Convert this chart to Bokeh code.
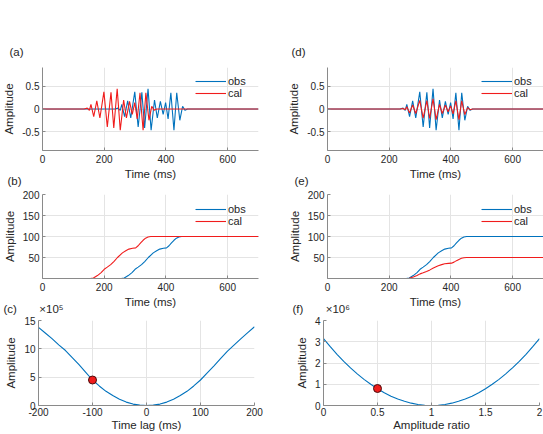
from bokeh.plotting import figure
from bokeh.layouts import column, row
from bokeh.models import FixedTicker, Legend, LegendItem, Range1d
from bokeh.embed import file_html
from bokeh.resources import INLINE

# ---------------- data ----------------
# observed waveform (extrema, time in ms / amplitude)
obs_t = [0, 235, 245, 252, 257, 266, 276, 286, 299, 310, 322, 331, 342, 352, 363, 372,
         382, 391, 399, 407, 416, 426, 435, 445, 454, 462, 470, 700]
obs_a = [0, 0, 0.02, -0.03, 0.10, -0.17, 0.18, -0.20, 0.38, -0.40, 0.37, -0.42, 0.45, -0.47,
         0.20, -0.20, 0.17, -0.12, 0.14, -0.22, 0.36, -0.47, 0.36, -0.25, 0.06, -0.03, 0, 0]
# calculated waveform, panel (a): time-shifted copy
cal_shift_t = [0, 135, 145, 152, 157, 166, 176, 186, 199, 210, 222, 231, 242, 252, 263, 272,
               282, 291, 299, 307, 316, 326, 335, 345, 354, 362, 370, 700]
cal_shift_a = [0, 0, 0.02, -0.03, 0.10, -0.17, 0.18, -0.20, 0.38, -0.40, 0.37, -0.42, 0.45, -0.47,
               0.20, -0.20, 0.17, -0.12, 0.14, -0.22, 0.36, -0.47, 0.36, -0.25, 0.06, -0.03, 0, 0]
# calculated waveform, panel (d): scaled copy
cal_scaled_t = [0, 235, 245, 252, 257, 266, 276, 286, 299, 310, 322, 331, 342, 352, 363, 372,
                382, 391, 399, 407, 416, 426, 435, 445, 454, 462, 470, 700]
cal_scaled_a = [0, 0, 0.01, -0.015, 0.05, -0.085, 0.09, -0.10, 0.19, -0.20, 0.185, -0.21, 0.225,
                -0.235, 0.10, -0.10, 0.085, -0.06, 0.07, -0.11, 0.18, -0.235, 0.18, -0.125, 0.03,
                -0.015, 0, 0]

# cumulative energy curves
cum_obs_t = [0, 255, 265, 278, 290, 300, 310, 321, 332, 343, 359, 370, 380, 392, 402, 410,
             418, 426, 434, 442, 451, 460, 700]
cum_obs_v = [0, 0, 1, 7, 14, 22, 27, 33, 41, 50, 61, 66, 70, 72, 73, 78, 85, 91, 96, 99, 100, 100, 100]
cum_cal_shift_t = [0, 155, 165, 178, 190, 200, 210, 221, 232, 243, 259, 270, 280, 292, 302, 310,
                   318, 326, 334, 342, 351, 360, 700]
cum_cal_shift_v = [0, 0, 1, 7, 14, 22, 27, 33, 41, 50, 61, 66, 70, 72, 73, 78, 85, 91, 96, 99, 100, 100, 100]
cum_cal_scaled_t = [0, 255, 265, 278, 290, 300, 310, 321, 332, 343, 359, 370, 380, 392, 402, 410,
                    418, 426, 434, 442, 451, 460, 700]
cum_cal_scaled_v = [0, 0, 0.5, 3.5, 7, 11, 13.5, 16.5, 20.5, 25, 30.5, 33, 35, 36, 36.5, 39,
                    42.5, 45.5, 48, 49.5, 50, 50, 50]

# misfit vs time lag (amplitude in units of 1e5)
lag_x = [-200, -187.5, -175, -162.5, -150, -137.5, -125, -112.5, -100, -87.5, -75, -62.5, -50,
         -37.5, -25, -12.5, 0, 12.5, 25, 37.5, 50, 62.5, 75, 87.5, 100, 112.5, 125, 137.5, 150,
         162.5, 175, 187.5, 200]
lag_y = [13.8, 12.8, 11.8, 10.7, 9.7, 8.45, 7.2, 5.85, 4.5, 3.45, 2.5, 1.75, 1.1, 0.6, 0.25,
         0.06, 0.0, 0.06, 0.25, 0.6, 1.1, 1.75, 2.5, 3.45, 4.5, 5.75, 7.0, 8.3, 9.6, 10.7, 11.8,
         12.85, 13.9]
lag_dot_x = [-100]
lag_dot_y = [4.5]

# misfit vs amplitude ratio (amplitude in units of 1e6)
ratio_x = [0, 0.0625, 0.125, 0.1875, 0.25, 0.3125, 0.375, 0.4375, 0.5, 0.5625, 0.625, 0.6875,
           0.75, 0.8125, 0.875, 0.9375, 1.0, 1.0625, 1.125, 1.1875, 1.25, 1.3125, 1.375, 1.4375,
           1.5, 1.5625, 1.625, 1.6875, 1.75, 1.8125, 1.875, 1.9375, 2.0]
ratio_y = [3.15, 2.77, 2.41, 2.08, 1.77, 1.49, 1.23, 1.0, 0.79, 0.6, 0.44, 0.31, 0.2, 0.11,
           0.05, 0.01, 0.0, 0.01, 0.05, 0.11, 0.2, 0.31, 0.44, 0.6, 0.79, 1.0, 1.23, 1.49, 1.77,
           2.08, 2.41, 2.77, 3.15]
ratio_dot_x = [0.5]
ratio_dot_y = [0.8]

# ticks
time_ticks = [0, 200, 400, 600]
time_labels = ["0", "200", "400", "600"]
wave_ticks = [-0.5, 0, 0.5]
wave_labels = ["-0.5", "0", "0.5"]
cum_ticks = [50, 100, 150, 200]
cum_labels = ["50", "100", "150", "200"]
lag_ticks = [-200, -100, 0, 100, 200]
lag_labels = ["-200", "-100", "0", "100", "200"]
lagamp_ticks = [0, 5, 10, 15]
lagamp_labels = ["0", "5", "10", "15"]
ratio_ticks = [0, 0.5, 1, 1.5, 2]
ratio_labels = ["0", "0.5", "1", "1.5", "2"]
ratioamp_ticks = [0, 1, 2, 3, 4]
ratioamp_labels = ["0", "1", "2", "3", "4"]

# ---------------- styling ----------------
FONT = "Liberation Sans"
TXT = "#262626"
AX = "#8a8a8a"
BLUE = "#0072bd"
RED = "#f01c1c"
NB = "\u00a0"

# (top border, frame height, bottom border, title standoff, css top margin,
#  tick label standoff, axis label standoff)
ROWS = [(67, 83, 33, 19, 0, 4, 2),
        (30, 84, 33, 15, -19, 4, 2),
        (26, 85, 29, 11, -17, 2, 0)]


def panel(col, rowi, xr, yr, xt, xl, yt, yl, xlabel, title, title_offset):
    frame_w = 216
    bl, br = (38, 16) if col == 0 else (53, 4)
    bt, fh, bb, st, mt, ts, ls = ROWS[rowi]
    p = figure(frame_width=frame_w, frame_height=fh, x_range=Range1d(*xr), y_range=Range1d(*yr),
               output_backend="svg", toolbar_location=None, title=title,
               min_border_left=bl, min_border_right=br, min_border_top=bt, min_border_bottom=bb,
               margin=(mt, 0, 0, 0))
    p.outline_line_color = None
    p.border_fill_color = None
    p.background_fill_color = "white"
    p.title.align = "left"
    p.title.offset = title_offset
    p.title.standoff = st
    p.title.text_font = FONT
    p.title.text_font_size = "11.5px"
    p.title.text_font_style = "normal"
    p.title.text_color = TXT
    p.xaxis.ticker = FixedTicker(ticks=xt)
    p.xaxis.major_label_overrides = dict(zip(xt, xl))
    p.yaxis.ticker = FixedTicker(ticks=yt)
    p.yaxis.major_label_overrides = dict(zip(yt, yl))
    for ax in (p.xaxis[0], p.yaxis[0]):
        ax.axis_line_color = AX
        ax.major_tick_line_color = AX
        ax.major_tick_in = 3
        ax.major_tick_out = 0
        ax.minor_tick_line_color = None
        ax.major_label_text_font = FONT
        ax.major_label_text_font_size = "10px"
        ax.major_label_text_color = TXT
        ax.axis_label_text_font = FONT
        ax.axis_label_text_font_size = "11.5px"
        ax.axis_label_text_font_style = "normal"
        ax.axis_label_text_color = TXT
    p.xaxis.axis_label = xlabel
    p.xaxis.major_label_standoff = ts
    p.xaxis.axis_label_standoff = ls
    p.yaxis.axis_label = "Amplitude"
    p.yaxis.major_label_standoff = 3
    p.yaxis.axis_label_standoff = 4
    p.grid.grid_line_color = "#e4e4e4"
    return p


def legend(p, r1, r2, vx, vy):
    leg = Legend(items=[LegendItem(label="obs", renderers=[r1]), LegendItem(label="cal", renderers=[r2])],
                 location=(vx, vy), orientation="vertical", border_line_color=None,
                 background_fill_alpha=0, glyph_width=31, glyph_height=10, label_height=10,
                 label_width=10, label_standoff=2, spacing=-4, padding=0, margin=0,
                 label_text_font=FONT, label_text_font_size="11px", label_text_color=TXT)
    p.add_layout(leg, "center")


# (a)
pa = panel(0, 0, (0, 700), (-0.92, 0.92), time_ticks, time_labels, wave_ticks, wave_labels,
           "Time (ms)", "(a)", -33)
ra1 = pa.line(obs_t, obs_a, line_color=BLUE, line_width=1.1)
ra2 = pa.line(cal_shift_t, cal_shift_a, line_color=RED, line_width=1.1)
legend(pa, ra1, ra2, 153, 51)

# (d)
pd = panel(1, 0, (0, 700), (-0.92, 0.92), time_ticks, time_labels, wave_ticks, wave_labels,
           "Time (ms)", "(d)", -36)
rd1 = pd.line(obs_t, obs_a, line_color=BLUE, line_width=1.1)
rd2 = pd.line(cal_scaled_t, cal_scaled_a, line_color=RED, line_width=1.1)
legend(pd, rd1, rd2, 154, 51)

# (b)
pb = panel(0, 1, (0, 700), (0, 200), time_ticks, time_labels, cum_ticks, cum_labels,
           "Time (ms)", "(b)", -35)
rb1 = pb.line(cum_obs_t, cum_obs_v, line_color=BLUE, line_width=1.1)
rb2 = pb.line(cum_cal_shift_t, cum_cal_shift_v, line_color=RED, line_width=1.1)
legend(pb, rb1, rb2, 153, 51)

# (e)
pe = panel(1, 1, (0, 700), (0, 200), time_ticks, time_labels, cum_ticks, cum_labels,
           "Time (ms)", "(e)", -33)
re1 = pe.line(cum_obs_t, cum_obs_v, line_color=BLUE, line_width=1.1)
re2 = pe.line(cum_cal_scaled_t, cum_cal_scaled_v, line_color=RED, line_width=1.1)
legend(pe, re1, re2, 154, 51)

# (c)
pc = panel(0, 2, (-200, 200), (0, 15), lag_ticks, lag_labels, lagamp_ticks, lagamp_labels,
           "Time lag (ms)", "(c)" + NB * 7 + "\u00d710\u2075", -35)
pc.line(lag_x, lag_y, line_color=BLUE, line_width=1.1)
pc.scatter(lag_dot_x, lag_dot_y, size=8, fill_color=RED, line_color="#4a0d0d", line_width=1)

# (f)
pf = panel(1, 2, (0, 2), (0, 4), ratio_ticks, ratio_labels, ratioamp_ticks, ratioamp_labels,
           "Amplitude ratio", "(f)" + NB * 7 + "\u00d710\u2076", -31)
pf.line(ratio_x, ratio_y, line_color=BLUE, line_width=1.1)
pf.scatter(ratio_dot_x, ratio_dot_y, size=8, fill_color=RED, line_color="#4a0d0d", line_width=1)

layout = column(row(pa, pd), row(pb, pe), row(pc, pf))
open("out.html", "w").write(file_html(layout, INLINE))
